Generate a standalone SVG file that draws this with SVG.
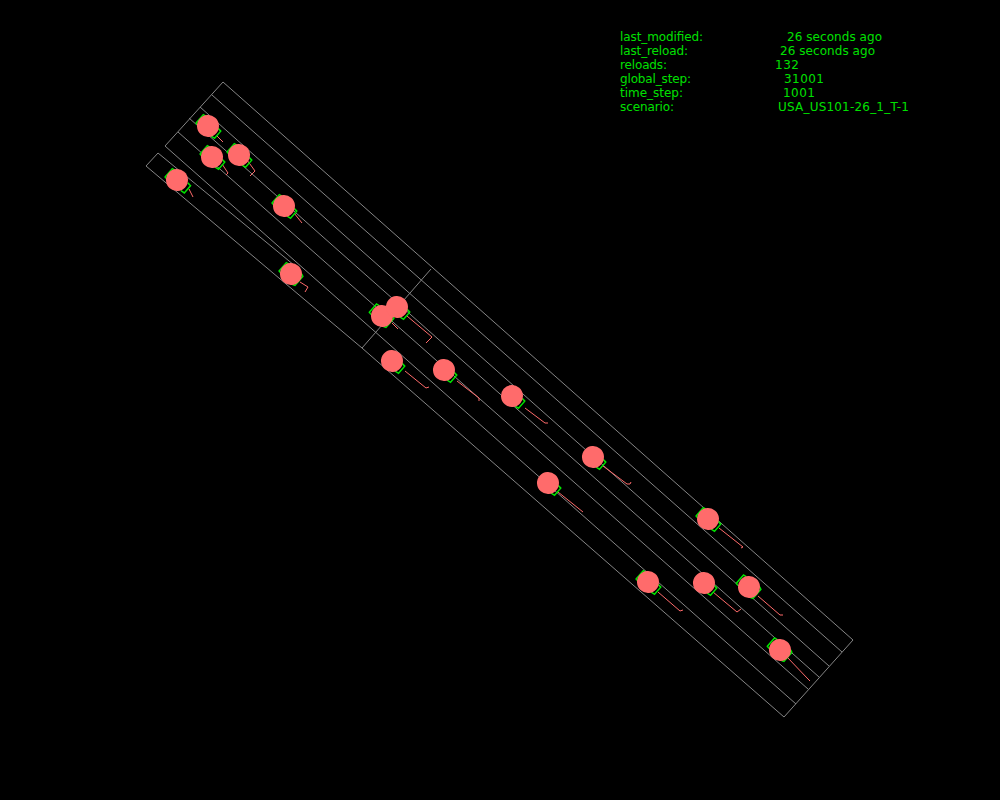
<svg xmlns="http://www.w3.org/2000/svg" width="1000" height="800" viewBox="0 0 1000 800">
<style>
.road{fill:none;stroke:#858585;stroke-width:1}
.trail{fill:none;stroke:#ff6b6b;stroke-width:1}
.box{fill:none;stroke:#00e600;stroke-width:1.5}
.body{fill:#ff6b6b}
text{font-family:"DejaVu Sans",sans-serif;font-size:12px;fill:#00e000}
</style>
<defs>
<path id="rear" class="box" d="M-8,-6 L-11,-5.5 L-11,5.5 L-8,6"/>
<path id="front" class="box" d="M9,-5 L13,-4.5 L13,5 L9,5.5"/>
<path id="frontS" class="box" d="M8,-7 L10.5,-6 L10.5,6 L8,7"/>
<circle id="car" class="body" r="11"/>
</defs>
<rect width="1000" height="800" fill="#000"/>
<g id="connectors">
<path class="road" d="M223,82 L853,640 L784,717 L362,348 L146,166 L158,153 L300,270"/>
<path class="road" d="M212,95 L842,652"/>
<path class="road" d="M200,107 L829,666"/>
<path class="road" d="M189,118 L819,677"/>
<path class="road" d="M178,132 L808,689"/>
<path class="road" d="M223,82 L165,146 L796,704"/>
<path class="road" d="M431,269 L362,348"/>
<path class="trail" d="M217,136 L223,142"/>
<path class="trail" d="M222,164 L228,173 L226,175"/>
<path class="trail" d="M247,160 L255,171 L250,176"/>
<path class="trail" d="M189,189 L193,197"/>
<path class="trail" d="M294,213 L302,223"/>
<path class="trail" d="M300,282 L308,287 L305,292"/>
<path class="trail" d="M407,316 L432,337 L426,343"/>
<path class="trail" d="M392,323 L398,329"/>
<path class="trail" d="M405,371 L426,388 L429,387"/>
<path class="trail" d="M457,381 L479,398 L479,401"/>
<path class="trail" d="M525,408 L545,423 L548,423"/>
<path class="trail" d="M603,466 L627,484 L630,484 L631,482"/>
<path class="trail" d="M558,492 L583,512"/>
<path class="trail" d="M719,528 L743,547 L741,548"/>
<path class="trail" d="M658,592 L680,611 L683,610"/>
<path class="trail" d="M713,592 L737,612 L741,609"/>
<path class="trail" d="M758,596 L780,615 L783,615"/>
<path class="trail" d="M787,657 L808,679 L810,681"/>
</g>
<g id="v1" transform="translate(208,126) rotate(41)"><use href="#rear"/><use href="#front"/><use href="#car"/></g>
<g id="v2" transform="translate(212,157) rotate(41)"><use href="#rear"/><use href="#front"/><use href="#car"/></g>
<g id="v3" transform="translate(239,155) rotate(41)"><use href="#rear"/><use href="#front"/><use href="#car"/></g>
<g id="v4" transform="translate(177,180) rotate(41)"><use href="#rear"/><use href="#front" transform="translate(1,0)"/><use href="#car"/></g>
<g id="v5" transform="translate(284,206) rotate(41)"><use href="#rear"/><use href="#front"/><use href="#car"/></g>
<g id="v6" transform="translate(291,274) rotate(41)"><use href="#rear"/><use href="#frontS"/><use href="#car"/></g>
<g id="v8" transform="translate(382,316) rotate(41)"><use href="#rear" transform="translate(-1,0)"/><use href="#frontS"/><use href="#car"/></g>
<g id="v7" transform="translate(397,307) rotate(41)"><use href="#front"/><use href="#car"/></g>
<g id="v9" transform="translate(392,361) rotate(41)"><use href="#front"/><use href="#car"/></g>
<g id="v10" transform="translate(444,370) rotate(41)"><use href="#front"/><use href="#car"/></g>
<g id="v11" transform="translate(512,396) rotate(41)"><use href="#front"/><use href="#car"/></g>
<g id="v12" transform="translate(593,457) rotate(41)"><use href="#front"/><use href="#car"/></g>
<g id="v13" transform="translate(548,483) rotate(41)"><use href="#front"/><use href="#car"/></g>
<g id="v14" transform="translate(708,519) rotate(41)"><use href="#rear"/><use href="#front"/><use href="#car"/></g>
<g id="v15" transform="translate(648,582) rotate(41)"><use href="#rear"/><use href="#front"/><use href="#car"/></g>
<g id="v16" transform="translate(704,583) rotate(41)"><use href="#front"/><use href="#car"/></g>
<g id="v17" transform="translate(749,587) rotate(41)"><use href="#rear" transform="translate(-1,0)"/><use href="#frontS"/><use href="#car"/></g>
<g id="v18" transform="translate(780,650) rotate(41)"><use href="#rear" transform="translate(-1,0)"/><use href="#frontS"/><use href="#car"/></g>
<g id="info">
<text x="620" y="41" textLength="83">last_modified:</text><text x="787" y="41" textLength="95">26 seconds ago</text>
<text x="620" y="55" textLength="68">last_reload:</text><text x="780" y="55" textLength="95">26 seconds ago</text>
<text x="620" y="69" textLength="47">reloads:</text><text x="775" y="69" textLength="24">132</text>
<text x="620" y="83" textLength="71">global_step:</text><text x="784" y="83" textLength="40">31001</text>
<text x="620" y="97" textLength="63">time_step:</text><text x="783" y="97" textLength="32">1001</text>
<text x="620" y="111" textLength="54">scenario:</text><text x="778" y="111" textLength="131">USA_US101-26_1_T-1</text>
</g>
</svg>
